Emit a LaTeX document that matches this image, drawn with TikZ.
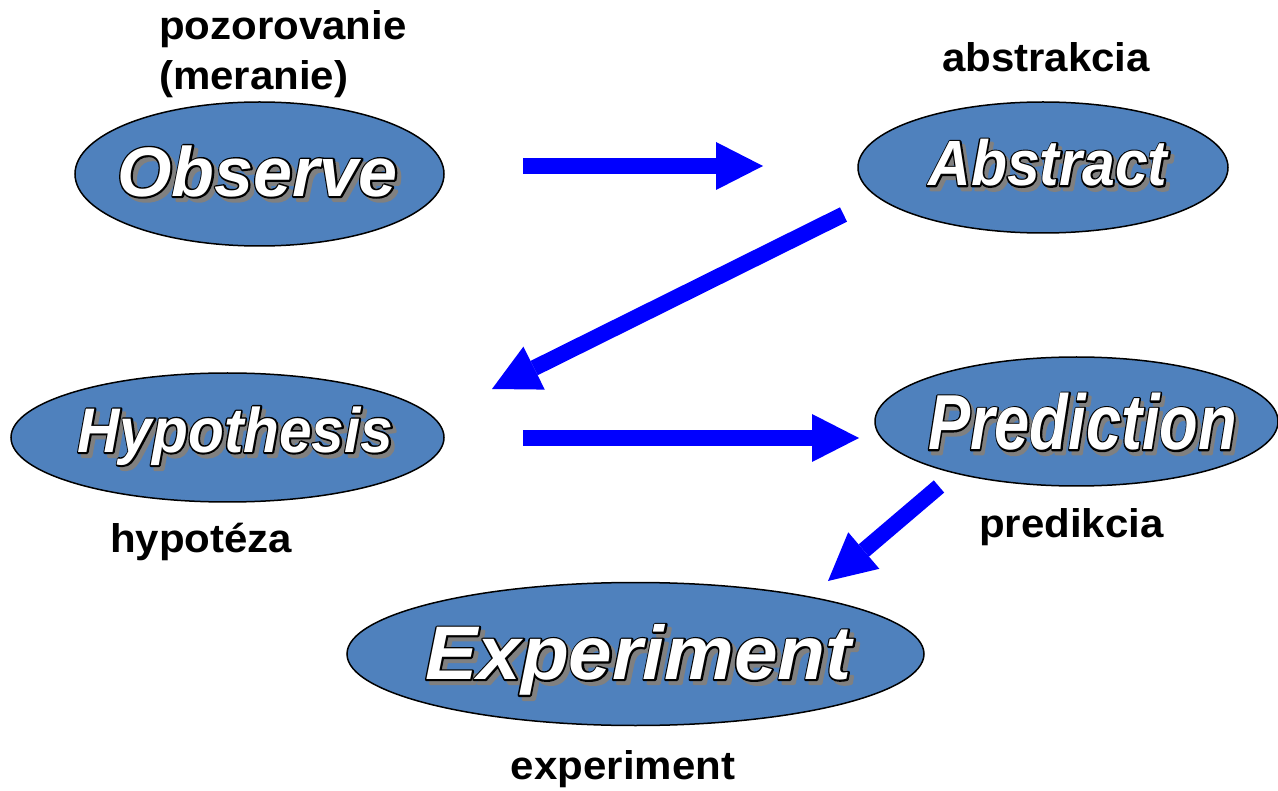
\documentclass[tikz,border=0pt]{standalone}
\usepackage{fontspec}
\setmainfont{Liberation Sans}
\newfontfamily\labelfont{Liberation Sans}[FakeStretch=1.05]
\usepackage{graphicx}
\usetikzlibrary{shapes.geometric,arrows.meta}
\definecolor{bubble fill}{HTML}{4F81BD}
\colorlet{word shadow}{black!50}
\colorlet{flow blue}{blue}
\newcommand\inkword[3]{{\color{#1}\special{pdf:code 2 Tr #2 w 1 j}#3\special{pdf:code 0 Tr 0.4 w}}}
\newcommand\fancyword[2]{\scalebox{#1}[1]{\rlap{\hspace{4pt}\raisebox{-4pt}{\inkword{word shadow}{3.4}{#2}}}\rlap{\inkword{black}{3.4}{#2}}\textcolor{white}{#2}}}
\tikzset{bubble/.style={ellipse, draw=black, line width=1.5pt, fill=bubble fill, inner sep=0pt},
    bubbletext/.style={font=\bfseries\itshape\fontsize{#1}{#1}\selectfont, inner sep=0pt, text depth=0pt},
    caption/.style={font=\labelfont\bfseries\fontsize{40}{48}\selectfont, inner sep=0pt},
    flow/.style={draw=flow blue, line width=16pt, -{Triangle[length=47pt, width=48pt, line width=0pt]}}}

\begin{document}
\begin{tikzpicture}[x=1pt, y=-1pt]
     \useasboundingbox (0,0) rectangle (1278,791);

     \node[bubble, minimum width=369, minimum height=144] (obs) at (259.5,174) {};
     \node[bubble, minimum width=370, minimum height=131] (abs) at (1043,167.5) {};
     \node[bubble, minimum width=433, minimum height=129] (hyp) at (227.5,437.5) {};
     \node[bubble, minimum width=403, minimum height=129] (pre) at (1076.5,421.5) {};
     \node[bubble, minimum width=577, minimum height=143] (exp) at (635.5,654) {};

     \node[bubbletext=70, xshift=-2pt, yshift=3pt] (obs-t) at (obs) {\fancyword{1.0}{Observe}};
     \node[bubbletext=64, xshift=5pt, yshift=5pt] (abs-t) at (abs) {\fancyword{0.92}{Abstract}};
     \node[bubbletext=63, xshift=8pt, yshift=8pt] (hyp-t) at (hyp) {\fancyword{0.93}{Hypothesis}};
     \node[bubbletext=78, xshift=6pt] (pre-t) at (pre) {\fancyword{0.81}{Prediction}};
     \node[bubbletext=76, xshift=3pt, yshift=2pt] (exp-t) at (exp) {\fancyword{1.03}{Experiment}};

     \node[caption, anchor=base west] (obs-l) at (159,40) {pozorovanie};
     \node[caption, anchor=base west] (obs-l2) at (159,90) {(meranie)};
     \node[caption, anchor=base] (abs-l) at (1046,72) {abstrakcia};
     \node[caption, anchor=base west] (hyp-l) at (110,552) {hypotéza};
     \node[caption, anchor=base] (pre-l) at (1071.5,537) {predikcia};
     \node[caption, anchor=base] (exp-l) at (623,779) {experiment};

     \coordinate (o2a-s) at (523,166);
     \coordinate (o2a-e) at (763,166);
     \coordinate (a2h-s) at (843.5,214.5);
     \coordinate (a2h-e) at (492,389);
     \coordinate (h2p-s) at (523,438);
     \coordinate (h2p-e) at (859,438);
     \coordinate (p2e-s) at (939,486.5);
     \coordinate (p2e-e) at (828,581);

     \draw[flow] (o2a-s) -- (o2a-e);
     \draw[flow] (a2h-s) -- (a2h-e);
     \draw[flow] (h2p-s) -- (h2p-e);
     \draw[flow] (p2e-s) -- (p2e-e);
\end{tikzpicture}
\end{document}
